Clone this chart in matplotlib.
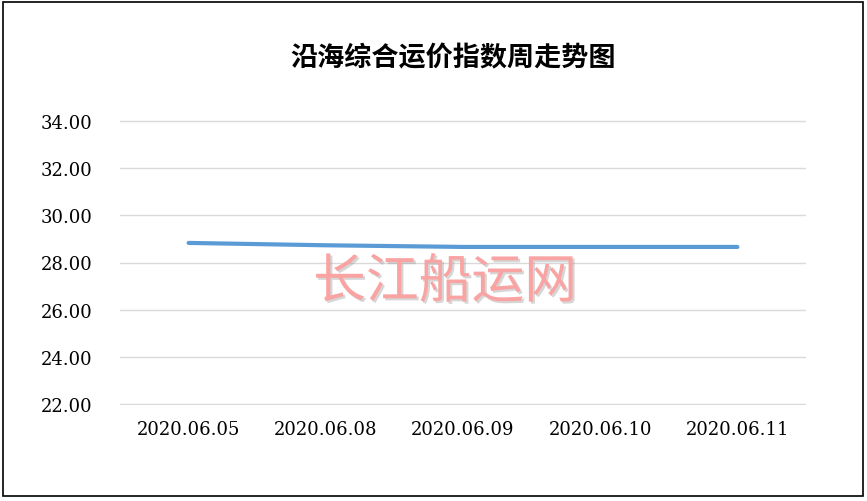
import matplotlib
matplotlib.use("Agg")
import matplotlib.pyplot as plt
import matplotlib.patheffects as pe
from matplotlib.patches import Rectangle

dates = ["2020.06.05", "2020.06.08", "2020.06.09", "2020.06.10", "2020.06.11"]
index_values = [28.83, 28.73, 28.66, 28.66, 28.66]
y_ticks = [22, 24, 26, 28, 30, 32, 34]

CJK = ["Noto Sans CJK SC", "DejaVu Sans"]
NUM = ["DejaVu Serif"]
LINE = "#5B9BD5"
GRID = "#D9D9D9"

fig = plt.figure(figsize=(8.67, 5.02), dpi=100)
fig.patch.set_facecolor("white")
# outer frame
fig.add_artist(Rectangle((0.004, 0.01), 0.991, 0.984, transform=fig.transFigure,
                         fill=False, edgecolor="black", linewidth=1.2))

ax = fig.add_axes([120 / 867, 1 - 406 / 502, 686 / 867, 285 / 502])
x = list(range(len(dates)))
ax.plot(x, index_values, color=LINE, linewidth=3, solid_capstyle="round", zorder=3)

ax.set_xlim(-0.5, len(dates) - 0.5)
ax.set_ylim(21.96, 34.04)
ax.set_yticks(y_ticks)
ax.set_yticklabels([f"{v:.2f}" for v in y_ticks], family=NUM, fontsize=13)
ax.set_xticks(x)
ax.set_xticklabels(dates, family=NUM, fontsize=13)
ax.tick_params(axis="y", length=0, pad=20, colors="black")
ax.tick_params(axis="x", length=0, pad=11, colors="black")
ax.grid(axis="y", color=GRID, linewidth=1)
ax.set_axisbelow(True)
for s in ax.spines.values():
    s.set_visible(False)

fig.text(453 / 867, 1 - 58 / 502, "沿海综合运价指数周走势图", family=CJK, fontsize=19.5,
         fontweight="bold", ha="center", va="center", color="black")

# watermark
fig.text(445 / 867, 1 - 283 / 502, "长江船运网", family=CJK, fontsize=38,
         ha="center", va="center", color="#F9A3A3", zorder=5,
         path_effects=[pe.withSimplePatchShadow(offset=(1.5, -1.5), shadow_rgbFace="#999999",
                                                alpha=0.4)])

fig.savefig("out.png", dpi=100, facecolor="white")
